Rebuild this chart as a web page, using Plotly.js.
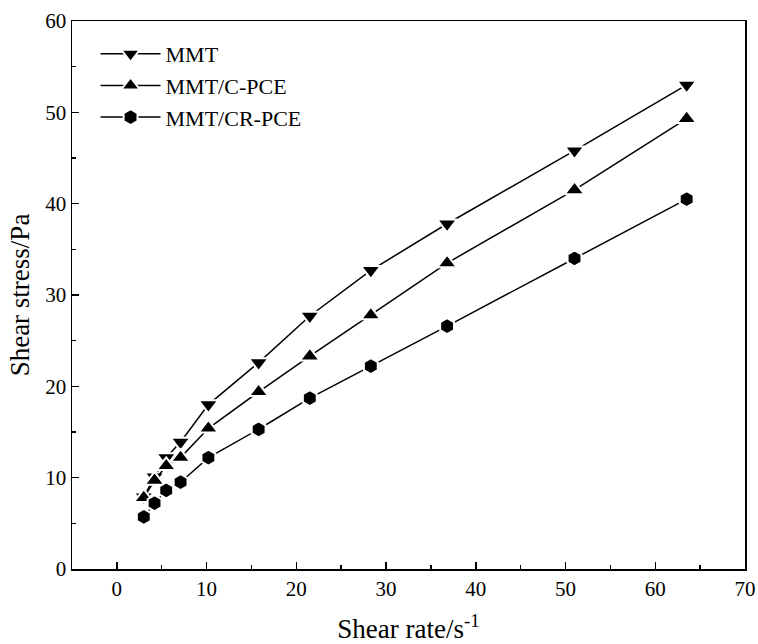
<!DOCTYPE html>
<html>
<head>
<meta charset="utf-8">
<script src="https://cdn.plot.ly/plotly-3.0.1.min.js"></script>
<style>html,body{margin:0;padding:0;background:#fff;}#chart{width:758px;height:644px;}</style>
</head>
<body>
<div id="chart"></div>
<script>
const shearRate = [3.0, 4.2, 5.5, 7.1, 10.2, 15.8, 21.5, 28.3, 36.8, 51.0, 63.5];
const stressMMT = [7.9, 10.1, 12.2, 13.9, 18.0, 22.6, 27.7, 32.7, 37.8, 45.8, 53.0];
const stressCPCE = [7.8, 9.7, 11.3, 12.2, 15.4, 19.4, 23.3, 27.8, 33.5, 41.5, 49.3];
const stressCRPCE = [5.7, 7.2, 8.6, 9.5, 12.2, 15.3, 18.7, 22.2, 26.6, 34.0, 40.5];
const seriesNames = ['MMT', 'MMT/C-PCE', 'MMT/CR-PCE'];
const symbols = ['triangle-down', 'triangle-up', 'hexagon'];

const ys = [stressMMT, stressCPCE, stressCRPCE];
const traces = ys.map((y, i) => ({
  x: shearRate, y: y, name: seriesNames[i], type: 'scatter', mode: 'lines+markers',
  line: {color: '#000', width: 1.5},
  marker: {symbol: symbols[i], size: i === 2 ? 16 : 17, color: '#000', line: {color: '#fff', width: 2}}
}));

const font = 'Liberation Serif, Times New Roman, serif';
const layout = {
  width: 758, height: 644,
  margin: {l: 72, r: 13, t: 21, b: 75},
  paper_bgcolor: '#fff', plot_bgcolor: '#fff',
  font: {family: font, color: '#000'},
  showlegend: true,
  legend: {x: 0.035, y: 0.978, xanchor: 'left', yanchor: 'top', bgcolor: 'rgba(0,0,0,0)',
           itemwidth: 60, font: {family: font, size: 22, color: '#000'}, tracegroupgap: 0},
  xaxis: {
    range: [-5, 70], tickvals: [0,10,20,30,40,50,60,70], ticks: 'inside', ticklen: 7, tickwidth: 1.5,
    tickcolor: '#000', showline: true, linecolor: '#000', linewidth: 1.5, mirror: true,
    showgrid: false, zeroline: false, tickfont: {family: font, size: 21, color: '#000'},
    minor: {dtick: 5, tick0: 0, ticks: 'inside', ticklen: 4, tickwidth: 1.5, tickcolor: '#000', showgrid: false},
    title: {text: 'Shear rate/s<sup>-1</sup>', font: {family: font, size: 27, color: '#000'}, standoff: 19}
  },
  yaxis: {
    range: [0, 60], tickvals: [0,10,20,30,40,50,60], ticks: 'inside', ticklen: 7, tickwidth: 1.5,
    tickcolor: '#000', showline: true, linecolor: '#000', linewidth: 1.5, mirror: true,
    showgrid: false, zeroline: false, tickfont: {family: font, size: 21, color: '#000'},
    minor: {dtick: 5, tick0: 0, ticks: 'inside', ticklen: 4, tickwidth: 1.5, tickcolor: '#000', showgrid: false},
    title: {text: 'Shear stress/Pa', font: {family: font, size: 27, color: '#000'}, standoff: 8}
  }
};
Plotly.newPlot('chart', traces, layout, {displayModeBar: false, staticPlot: true});
</script>
</body>
</html>
